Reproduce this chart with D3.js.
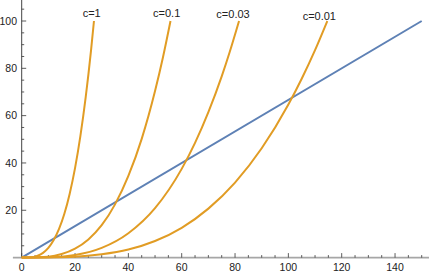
<!DOCTYPE html>
<html>
<head>
<meta charset="utf-8">
<script src="https://cdn.jsdelivr.net/npm/d3@7"></script>
<style>
  body { margin: 0; background: #fff; }
  svg { display: block; font-family: "Liberation Sans", Arial, sans-serif; }
</style>
</head>
<body>
<div id="root"></div>
<script>
// values
const curveLabels = ["c=1", "c=0.1", "c=0.03", "c=0.01"];

const c1X = [0, 4, 6, 8, 10, 12, 14, 16, 18, 20, 22, 24, 26, 27.1];
const c1Y = [0, 0.2, 0.8, 2.0, 4.1, 7.4, 12.1, 18.5, 27.0, 37.8, 51.3, 67.8, 87.6, 100];

const c01X = [0, 10, 15, 20, 25, 30, 35, 40, 45, 50, 53, 55.8];
const c01Y = [0, 0.4, 1.5, 3.8, 7.7, 13.7, 22.5, 34.5, 50.2, 70.4, 84.8, 100];

const c003X = [0, 15, 20, 30, 40, 50, 60, 65, 70, 75, 78, 81.5];
const c003Y = [0, 0.4, 1.1, 4.1, 10.3, 20.9, 37.5, 48.5, 61.5, 76.6, 86.9, 100];

const c001X = [0, 20, 30, 40, 50, 60, 70, 80, 90, 100, 105, 110, 114.6];
const c001Y = [0, 0.4, 1.4, 3.4, 7.0, 12.6, 20.7, 31.7, 46.2, 64.7, 75.6, 87.7, 100];

const lineX = [0, 150];
const lineY = [0, 100];

const xTicks = [0, 20, 40, 60, 80, 100, 120, 140];
const yTicks = [20, 40, 60, 80, 100];

const width = 431;
const height = 274;

const svg = d3.select("#root")
  .append("svg")
  .attr("width", width)
  .attr("height", height);

const x = d3.scaleLinear().domain([0, 150]).range([21.7, 421.7]);
const y = d3.scaleLinear().domain([0, 100]).range([257.6, 21]);

const orange = "#e19c24";
const blue = "#5e81b5";

// x axis (Mathematica style: gray line, ticks pointing up)
const xMinor = d3.range(5, 155, 5).filter(v => v % 20 !== 0);
svg.append("line")
  .attr("x1", x(-3.3)).attr("x2", width - 2)
  .attr("y1", y(0)).attr("y2", y(0))
  .attr("stroke", "#a6a6a6").attr("stroke-width", 1.6);
svg.selectAll(".xminor").data(xMinor).join("line")
  .attr("x1", d => x(d)).attr("x2", d => x(d))
  .attr("y1", y(0)).attr("y2", y(0) - 2.5)
  .attr("stroke", "#333").attr("stroke-width", 0.8);
svg.selectAll(".xmajor").data(xTicks).join("line")
  .attr("x1", d => x(d)).attr("x2", d => x(d))
  .attr("y1", y(0)).attr("y2", y(0) - 4.5)
  .attr("stroke", "#333").attr("stroke-width", 0.8);
svg.selectAll(".xlab").data(xTicks).join("text")
  .attr("x", d => x(d)).attr("y", 270.5)
  .attr("text-anchor", "middle")
  .attr("font-size", 10.5).attr("fill", "#222")
  .text(d => d);

// y axis
const yMinor = d3.range(5, 110, 5).filter(v => v % 20 !== 0);
svg.append("line")
  .attr("x1", x(0)).attr("x2", x(0))
  .attr("y1", y(0)).attr("y2", 0)
  .attr("stroke", "#444").attr("stroke-width", 1);
svg.selectAll(".yminor").data(yMinor).join("line")
  .attr("x1", x(0)).attr("x2", x(0) + 2.5)
  .attr("y1", d => y(d)).attr("y2", d => y(d))
  .attr("stroke", "#333").attr("stroke-width", 0.8);
svg.selectAll(".ymajor").data(yTicks).join("line")
  .attr("x1", x(0)).attr("x2", x(0) + 4.5)
  .attr("y1", d => y(d)).attr("y2", d => y(d))
  .attr("stroke", "#333").attr("stroke-width", 0.8);
svg.selectAll(".ylab").data(yTicks).join("text")
  .attr("x", 17).attr("y", d => y(d) + 3.8)
  .attr("text-anchor", "end")
  .attr("font-size", 10.5).attr("fill", "#222")
  .text(d => d);

// blue line
const path = d3.line().x(d => x(d[0])).y(d => y(d[1]));
svg.append("path")
  .attr("d", path(d3.zip(lineX, lineY)))
  .attr("fill", "none").attr("stroke", blue).attr("stroke-width", 2);

// orange curves
const curves = [
  d3.zip(c1X, c1Y),
  d3.zip(c01X, c01Y),
  d3.zip(c003X, c003Y),
  d3.zip(c001X, c001Y)
];
const smooth = d3.line().curve(d3.curveMonotoneX).x(d => x(d[0])).y(d => y(d[1]));
svg.selectAll(".curve").data(curves).join("path")
  .attr("d", d => smooth(d))
  .attr("fill", "none").attr("stroke", orange).attr("stroke-width", 2);

const labelShift = [2.3, 3.8, 6, 8];
const labelDrop = [0, 0, 1, 2.5];
svg.selectAll(".clab").data(curves).join("text")
  .attr("x", (d, i) => x(d[d.length - 1][0]) - labelShift[i])
  .attr("y", (d, i) => y(d[d.length - 1][1]) - 4 + labelDrop[i])
  .attr("text-anchor", "middle")
  .attr("font-size", 11).attr("fill", "#222")
  .text((d, i) => curveLabels[i]);
</script>
</body>
</html>
